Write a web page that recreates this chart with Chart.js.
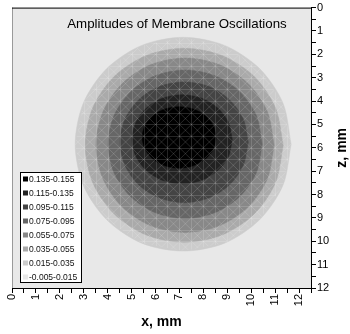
<!DOCTYPE html>
<html>
<head>
<meta charset="utf-8">
<script src="https://cdn.jsdelivr.net/npm/chart.js@4.4.1/dist/chart.umd.min.js"></script>
<style>
  html, body { margin: 0; padding: 0; background: #fff; }
</style>
</head>
<body>
<canvas id="chart" width="350" height="334"></canvas>
<script>
// legend labels, darkest first
const levels = ['0.135-0.155', '0.115-0.135', '0.095-0.115', '0.075-0.095',
                '0.055-0.075', '0.035-0.055', '0.015-0.035', '-0.005-0.015'];
const levelColors = ['#000000', '#222222', '#444444', '#666666',
                     '#888888', '#aaaaaa', '#cccccc', '#e8e8e8'];

// contour outlines [x, z] in mm
const c135 = [[8.54,5.55],[8.42,6.05],[8.08,6.48],[7.58,6.77],[6.99,6.87],[6.39,6.77],[5.89,6.48],[5.56,6.05],
              [5.44,5.55],[5.56,5.05],[5.89,4.62],[6.39,4.34],[6.99,4.24],[7.58,4.34],[8.08,4.62],[8.42,5.05]];
const c115 = [[9.21,5.64],[9.05,6.37],[8.59,6.98],[7.91,7.40],[7.11,7.54],[6.31,7.40],[5.63,6.98],[5.18,6.37],
              [5.02,5.64],[5.18,4.91],[5.63,4.29],[6.31,3.87],[7.11,3.73],[7.91,3.87],[8.59,4.29],[9.05,4.91]];
const c095 = [[9.88,5.76],[9.67,6.75],[9.09,7.59],[8.22,8.15],[7.20,8.35],[6.17,8.15],[5.30,7.59],[4.72,6.75],
              [4.52,5.76],[4.72,4.77],[5.30,3.94],[6.17,3.37],[7.20,3.18],[8.22,3.37],[9.09,3.94],[9.67,4.77]];
const c075 = [[10.46,5.85],[10.22,7.06],[9.52,8.09],[8.47,8.78],[7.24,9.03],[6.00,8.78],[4.96,8.09],[4.26,7.06],
              [4.02,5.85],[4.26,4.63],[4.96,3.60],[6.00,2.91],[7.24,2.67],[8.47,2.91],[9.52,3.60],[10.22,4.63]];
const c055 = [[10.96,5.89],[10.68,7.32],[9.87,8.53],[8.66,9.34],[7.24,9.62],[5.81,9.34],[4.61,8.53],[3.80,7.32],
              [3.51,5.89],[3.80,4.46],[4.61,3.25],[5.81,2.44],[7.24,2.16],[8.66,2.44],[9.87,3.25],[10.68,4.46]];
const c035 = [[11.34,5.89],[11.02,7.48],[10.13,8.83],[8.78,9.73],[7.20,10.04],[5.61,9.73],[4.27,8.83],[3.37,7.48],
              [3.06,5.89],[3.37,4.30],[4.27,2.95],[5.61,2.05],[7.20,1.74],[8.78,2.05],[10.13,2.95],[11.02,4.30]];
const c015 = [[11.67,5.85],[11.33,7.60],[10.35,9.08],[8.89,10.08],[7.16,10.42],[5.42,10.08],[3.96,9.08],[2.98,7.60],
              [2.64,5.85],[2.98,4.09],[3.96,2.61],[5.42,1.62],[7.16,1.27],[8.89,1.62],[10.35,2.61],[11.33,4.09]];
const contours = [c135, c115, c095, c075, c055, c035, c015];

const xMax = 12.5;
const zMax = 12;
const titleText = 'Amplitudes of Membrane Oscillations';
const xTitle = 'x, mm';
const zTitle = 'z, mm';

const FONT = 'Arial, "Liberation Sans", sans-serif';

function closed(pts) {
    let d = pts.map(p => ({x: p[0], y: p[1]}));
    d.push({x: pts[0][0], y: pts[0][1]});
    return d;
}

const decor = {
    id: 'decor',
    beforeDatasetsDraw(chart) {
        const {ctx, chartArea: a} = chart;
        ctx.save();
        ctx.fillStyle = levelColors[7];
        ctx.fillRect(a.left, a.top, a.right - a.left, a.bottom - a.top);
        ctx.restore();
    },
    afterDatasetsDraw(chart) {
        const {ctx, chartArea: a} = chart;
        const xs = chart.scales.x, ys = chart.scales.y;
        const px = v => xs.getPixelForValue(v), py = v => ys.getPixelForValue(v);

        // triangulation mesh over the data region
        ctx.save();
        ctx.beginPath();
        c015.forEach((p, i) => i ? ctx.lineTo(px(p[0]), py(p[1])) : ctx.moveTo(px(p[0]), py(p[1])));
        ctx.closePath();
        ctx.clip();
        ctx.strokeStyle = 'rgba(255,255,255,0.15)';
        ctx.lineWidth = 1;
        ctx.beginPath();
        for (let v = 0; v <= xMax; v += 0.5) {
            ctx.moveTo(Math.round(px(v)) + 0.5, a.top); ctx.lineTo(Math.round(px(v)) + 0.5, a.bottom);
        }
        for (let v = 0; v <= zMax; v += 0.5) {
            ctx.moveTo(a.left, Math.round(py(v)) + 0.5); ctx.lineTo(a.right, Math.round(py(v)) + 0.5);
        }
        for (let k = -zMax; k <= xMax + zMax; k += 0.5) {
            ctx.moveTo(px(k), py(0)); ctx.lineTo(px(k + zMax), py(zMax));
            ctx.moveTo(px(k), py(0)); ctx.lineTo(px(k - zMax), py(zMax));
        }
        ctx.stroke();
        ctx.restore();

        ctx.save();
        // frame
        ctx.strokeStyle = '#999';
        ctx.beginPath();
        ctx.moveTo(a.left + 0.5, a.top); ctx.lineTo(a.left + 0.5, a.bottom);
        ctx.stroke();
        ctx.strokeStyle = '#000';
        ctx.beginPath();
        ctx.moveTo(a.left, a.top + 0.5); ctx.lineTo(a.right, a.top + 0.5);
        ctx.stroke();

        // title
        ctx.fillStyle = '#000';
        ctx.font = '13.3px ' + FONT;
        ctx.textAlign = 'center';
        ctx.textBaseline = 'alphabetic';
        ctx.fillText(titleText, 177, 28);

        // legend
        const lx = 20, ly = 172, lw = 62, lh = 111;
        ctx.fillStyle = '#fff';
        ctx.fillRect(lx, ly, lw, lh);
        ctx.strokeStyle = '#000';
        ctx.strokeRect(lx + 0.5, ly + 0.5, lw - 1, lh - 1);
        ctx.font = '8.5px ' + FONT;
        ctx.textAlign = 'left';
        ctx.textBaseline = 'middle';
        levels.forEach((lab, i) => {
            const y = ly + 7 + i * 14;
            ctx.fillStyle = levelColors[i];
            ctx.fillRect(lx + 3, y - 2.5, 5, 5);
            ctx.fillStyle = '#111';
            ctx.fillText(lab, lx + 9, y + 0.5);
        });

        // axis titles
        ctx.fillStyle = '#000';
        ctx.font = 'bold 14px ' + FONT;
        ctx.textAlign = 'center';
        ctx.textBaseline = 'alphabetic';
        ctx.fillText(xTitle, (a.left + a.right) / 2, 326);
        ctx.translate(346, (a.top + a.bottom) / 2);
        ctx.rotate(-Math.PI / 2);
        ctx.fillText(zTitle, 0, 0);
        ctx.restore();
    }
};

new Chart(document.getElementById('chart'), {
    type: 'line',
    data: {
        datasets: contours.map((pts, i) => ({
            label: levels[i],
            data: closed(pts),
            fill: 'shape',
            backgroundColor: levelColors[i],
            borderColor: levelColors[i],
            borderWidth: 0.5,
            pointRadius: 0,
            tension: 0.3,
            order: i
        }))
    },
    options: {
        responsive: false,
        animation: false,
        events: [],
        layout: { padding: { left: 12, top: 4, right: 0, bottom: 0 } },
        scales: {
            x: {
                type: 'linear',
                min: 0,
                max: xMax,
                afterFit: s => { s.height = 46; },
                grid: { drawOnChartArea: false, drawTicks: true, tickLength: 5, tickColor: '#000' },
                border: { color: '#000', width: 1 },
                ticks: {
                    stepSize: 0.5,
                    autoSkip: false,
                    minRotation: 90,
                    maxRotation: 90,
                    padding: 1,
                    color: '#000',
                    font: { family: FONT, size: 11 },
                    callback: v => Number.isInteger(v) ? String(v) : ''
                }
            },
            y: {
                type: 'linear',
                position: 'right',
                reverse: true,
                min: 0,
                max: zMax,
                afterFit: s => { s.width = 39; },
                grid: { drawOnChartArea: false, drawTicks: true, tickLength: 5, tickColor: '#000' },
                border: { color: '#000', width: 1 },
                ticks: {
                    stepSize: 0.5,
                    autoSkip: false,
                    padding: 1,
                    color: '#000',
                    font: { family: FONT, size: 11 },
                    callback: v => Number.isInteger(v) ? String(v) : ''
                }
            }
        },
        plugins: {
            legend: { display: false },
            tooltip: { enabled: false },
            title: { display: false }
        }
    },
    plugins: [decor]
});
</script>
</body>
</html>
